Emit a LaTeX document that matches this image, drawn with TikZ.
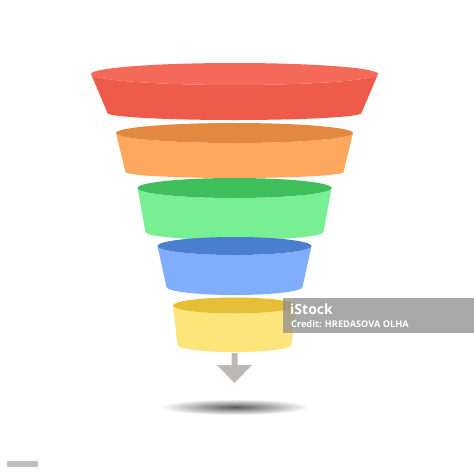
\documentclass[tikz,border=0pt]{standalone}
\usepackage{fontspec}
\setmainfont{Open Sans}
\definecolor{redtop}{HTML}{F4695A}
\definecolor{redbody}{HTML}{EE5B4A}
\definecolor{orangetop}{HTML}{E2893F}
\definecolor{orangebody}{HTML}{FDA75F}
\definecolor{greentop}{HTML}{3FBF5C}
\definecolor{greenbody}{HTML}{78EF92}
\definecolor{bluetop}{HTML}{4A7FCF}
\definecolor{bluebody}{HTML}{80AEFC}
\definecolor{yellowtop}{HTML}{E5C036}
\definecolor{yellowbody}{HTML}{FDE47B}
\definecolor{arrowgray}{HTML}{BCB9B4}
% one slice of the funnel: top y, top rx, top ry, bottom y, bottom rx, bottom ry, top colour, body colour
\newcommand{\funnellayer}[8]{%
  \fill[#8] (234.5-#2,#1) -- (234.5-#5,#4)
    arc[start angle=180,end angle=0,x radius=#5,y radius=#6]
    -- (234.5+#2,#1)
    arc[start angle=0,end angle=180,x radius=#2,y radius=#3] -- cycle;
  \fill[#7] (234.5,#1) ellipse[x radius=#2,y radius=#3];
}
\begin{document}
\begin{tikzpicture}[x=1pt,y=-1pt]
  \fill[white] (0,0) rectangle (474,474);
  \useasboundingbox (0,0) rectangle (474,474);
  % shadow
  \shade[inner color=black!65,outer color=white] (235,407) ellipse[x radius=74,y radius=8];
  % funnel slices
  \funnellayer{74}{143.5}{11}{113}{127}{7}{redtop}{redbody}
  \funnellayer{133}{118.5}{10}{172}{109}{6}{orangetop}{orangebody}
  \funnellayer{188}{97}{10}{232}{89}{8}{greentop}{greenbody}
  \funnellayer{246}{77}{9}{287}{68}{8}{bluetop}{bluebody}
  \funnellayer{305.5}{61.5}{8}{345}{57}{7}{yellowtop}{yellowbody}
  % arrow
  \fill[arrowgray] (231.5,353) -- (237.5,353) -- (237.5,365) -- (252,365)
    -- (234.5,383) -- (217,365) -- (231.5,365) -- cycle;
  % watermark
  \fill[black!45,opacity=.75] (283,298) rectangle (474,333);
  \node[anchor=west,inner sep=0pt,text=white,font=\bfseries\fontsize{14}{14}\selectfont] (istock) at (290,309) {iStock};
  \node[anchor=west,inner sep=0pt,text=white,font=\bfseries\fontsize{9.2}{9.2}\selectfont] (credit) at (291,324) {Credit: HREDASOVA OLHA};
  \fill[black!25] (7,461) rectangle (38,467);
\end{tikzpicture}
\end{document}
